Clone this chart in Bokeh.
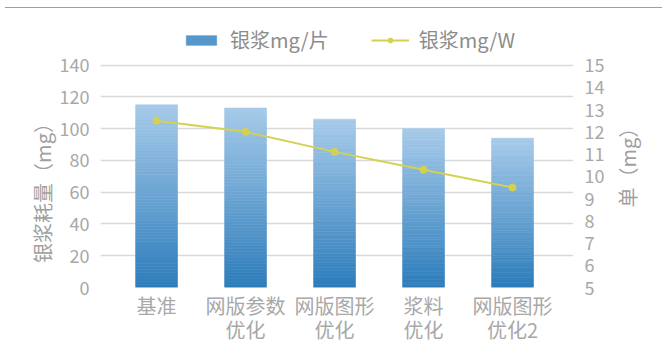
import math
from bokeh.plotting import figure
from bokeh.models import (Range1d, LinearAxis, FixedTicker, ColumnDataSource,
                          Legend, LegendItem, InlineStyleSheet)
from bokeh.embed import file_html
from bokeh.resources import INLINE

# --- data -------------------------------------------------------------
categories = ["基准", "网版参数\n优化", "网版图形\n优化", "浆料\n优化", "网版图形\n优化2"]
paste_per_wafer = [115, 113, 106, 100, 94]        # 银浆 mg/片 (left axis)
paste_per_watt = [12.5, 12.0, 11.1, 10.3, 9.5]    # 银浆 mg/W (right axis)
left_ticks = [0, 20, 40, 60, 80, 100, 120, 140]
right_ticks = [5, 6, 7, 8, 9, 10, 11, 12, 13, 14, 15]

FONT = "Noto Sans CJK SC"
TICK_COLOR = "#a8a8a8"
TITLE_COLOR = "#a0a0a0"
GRID_COLOR = "#d9d9d9"
LINE_COLOR = "#d5d150"
BAR_BOTTOM = (45, 125, 187)
BAR_TOP = (166, 202, 233)

# layout: the frame reaches up past the top gridline so the legend sits inside it
TOP = 18          # frame top (px)
GRID_SPAN = 224   # px between the lowest and highest gridline
HEADROOM = 47     # px between the highest gridline and the frame top

xs = list(range(len(categories)))
l_lo, l_hi = left_ticks[0], left_ticks[-1]
r_lo, r_hi = right_ticks[0], right_ticks[-1]
l_end = l_hi + HEADROOM * (l_hi - l_lo) / GRID_SPAN
r_end = r_hi + HEADROOM * (r_hi - r_lo) / GRID_SPAN

p = figure(width=662, height=347, output_backend="svg", toolbar_location=None,
           x_range=Range1d(-0.63, len(categories) - 1 + 0.685),
           y_range=Range1d(l_lo, l_end),
           min_border_left=100, min_border_right=89,
           min_border_top=TOP, min_border_bottom=58)
p.outline_line_color = None
p.extra_y_ranges = {"w": Range1d(r_lo, r_end)}

# thin rule across the top of the page
p.stylesheets = [InlineStyleSheet(css="""
:host::after {
  content: ""; position: absolute; left: 5px; right: 0; top: 7px;
  height: 1px; background: #c9994f; z-index: 10; pointer-events: none;
}
""")]

# --- gradient bars: each bar is drawn as thin stacked slices -----------
N = 60
seg_x, seg_bot, seg_top, seg_col = [], [], [], []
for x, v in zip(xs, paste_per_wafer):
    for k in range(N):
        t = k / (N - 1)
        r, g, b = (round(BAR_BOTTOM[i] + (BAR_TOP[i] - BAR_BOTTOM[i]) * t) for i in range(3))
        seg_x.append(x)
        seg_bot.append(v * k / N)
        seg_top.append(v * (k + 1) / N)
        seg_col.append(f"#{r:02x}{g:02x}{b:02x}")
bars = ColumnDataSource(dict(x=seg_x, bottom=seg_bot, top=seg_top, color=seg_col))
bar_r = p.vbar(x="x", bottom="bottom", top="top", width=0.47, source=bars,
               fill_color="color", line_color="color", line_width=0.6)

# --- line on the right axis -------------------------------------------
line = p.line(xs, paste_per_watt, y_range_name="w", line_color=LINE_COLOR, line_width=2)
pts = p.scatter(xs, paste_per_watt, y_range_name="w", size=7,
                fill_color=LINE_COLOR, line_color=LINE_COLOR)

# --- axes --------------------------------------------------------------
left = p.yaxis[0]
left.ticker = FixedTicker(ticks=left_ticks)
right = LinearAxis(y_range_name="w", ticker=FixedTicker(ticks=right_ticks))
p.add_layout(right, "right")
bottom = p.xaxis[0]
bottom.ticker = FixedTicker(ticks=xs)
bottom.major_label_overrides = {i: c for i, c in enumerate(categories)}

for ax in [bottom, left, right]:
    ax.axis_line_color = None
    ax.major_tick_line_color = None
    ax.minor_tick_line_color = None
    ax.major_tick_in = 0
    ax.major_tick_out = 0
    ax.major_label_text_font = FONT
    ax.major_label_text_color = TICK_COLOR
    ax.major_label_text_font_size = "18px"
    ax.major_label_standoff = 11
    ax.axis_label_text_font = FONT
    ax.axis_label_text_font_style = "normal"
    ax.axis_label_text_font_size = "20px"
    ax.axis_label_text_color = TITLE_COLOR

bottom.major_label_text_font_size = "20px"
bottom.major_label_text_line_height = 0.85
bottom.major_label_standoff = 3

left.axis_label = "银浆耗量（mg）" + "\u3000" * 4
left.axis_label_standoff = 0

# right-hand title, reading bottom to top from near the foot of the axis
right.axis_label_orientation = math.pi / 2
right.axis_label_standoff = 20
right.axis_label_align = "start"
right.axis_label = "\u3000" * 4 + "单（mg）"

p.xgrid.grid_line_color = None
p.ygrid.ticker = FixedTicker(ticks=left_ticks)
p.ygrid.grid_line_color = GRID_COLOR
p.ygrid.grid_line_width = 1.6

# --- legend ---------------------------------------------------------------
# the bar swatch takes the colour of a mid-height slice of the first bar
legend = Legend(items=[LegendItem(label="银浆mg/片", renderers=[bar_r], index=N // 3),
                       LegendItem(label="银浆mg/W", renderers=[line, pts])],
                orientation="horizontal", location=(82, 233),
                glyph_width=38, glyph_height=12, label_standoff=10, spacing=42,
                padding=0, margin=0, border_line_color=None,
                background_fill_alpha=0,
                label_text_font=FONT, label_text_font_size="20px",
                label_text_color="#8c8c8c")
p.add_layout(legend, "center")

open("out.html", "w").write(file_html(p, INLINE))
